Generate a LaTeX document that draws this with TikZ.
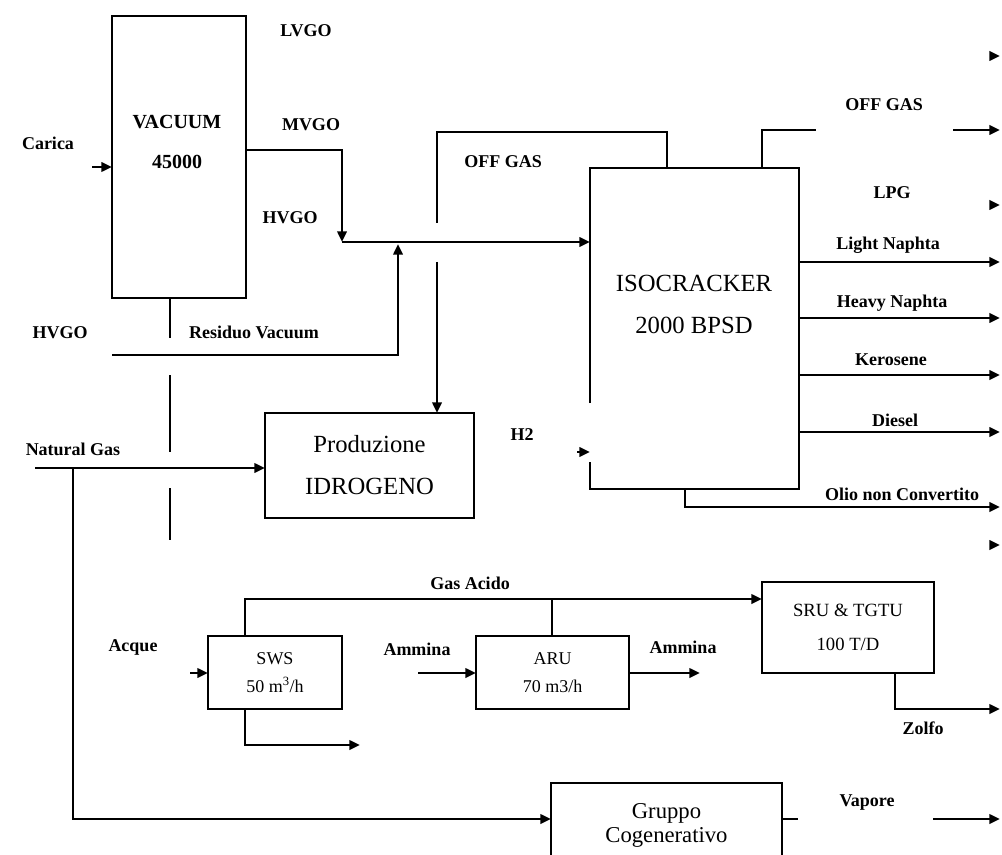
\documentclass[tikz,border=0pt]{standalone}
\usepackage{fontspec}
\setmainfont{Liberation Serif}
\usetikzlibrary{arrows.meta,calc}
\newdimen\upx \upx=0.75pt
\begin{document}
\begin{tikzpicture}[x=0.75pt,y=-0.75pt,line width=1.9pt,
  box/.style={draw,line width=1.9pt,inner sep=0pt,outer sep=0pt,align=center},
  lbl/.style={font=\fontsize{13.5}{15}\selectfont\bfseries,inner sep=0pt},
  arr/.style={-{Triangle[length=8pt,width=7pt]}}]
\clip (0,0) rectangle (1002,855);
\fill[white] (0,0) rectangle (1002,855);

% ---- boxes ----
\node[box,minimum width=134\upx,minimum height=282\upx] (vac) at (179,157) {};
\node[align=center,inner sep=0pt,font=\fontsize{15}{30}\selectfont\bfseries] (vact) at (177,142) {VACUUM\\45000};
\node[inner sep=0pt,outer sep=0pt,minimum width=209\upx,minimum height=321\upx] (iso) at (694.5,328.5) {};
\draw ($(iso.north west)+(0,235)$) -- (iso.north west) -- (iso.north east) -- (iso.south east) -- (iso.south west) -- ($(iso.south west)+(0,-27)$);
\node[align=center,inner sep=0pt,font=\fontsize{18.5}{31.5}\selectfont] (isot) at (694,304) {ISOCRACKER\\2000 BPSD};
\node[box,minimum width=209\upx,minimum height=105\upx,font=\fontsize{18.5}{31.5}\selectfont] (prod) at (369.5,465.5) {Produzione\\IDROGENO};
\node[box,minimum width=134\upx,minimum height=73\upx,font=\fontsize{13.5}{21}\selectfont] (sws) at (275,672.5) {SWS\\50 m\textsuperscript{3}/h};
\node[box,minimum width=153\upx,minimum height=73\upx,font=\fontsize{13.5}{21}\selectfont] (aru) at (552.5,672.5) {ARU\\70 m3/h};
\node[box,minimum width=172\upx,minimum height=91\upx,font=\fontsize{14}{25.5}\selectfont] (sru) at (848,627.5) {SRU \& TGTU\\100 T/D};
\node[box,minimum width=231\upx,minimum height=84\upx,font=\fontsize{17}{18}\selectfont] (cog) at (666.5,825) {Gruppo\\Cogenerativo};

% ---- labels ----
\node[lbl] (lLVGO) at (306,31) {LVGO};
\node[lbl] (lMVGO) at (311,125) {MVGO};
\node[lbl] (lHVGOa) at (290,218) {HVGO};
\node[lbl] (lCarica) at (48,143) {Carica};
\node[lbl] (lHVGOb) at (60,333) {HVGO};
\node[lbl] (lRes) at (254,332) {Residuo Vacuum};
\node[lbl] (lNG) at (73,449) {Natural Gas};
\node[lbl] (lOGa) at (503,162) {OFF GAS};
\node[lbl] (lOGb) at (884,105) {OFF GAS};
\node[lbl] (lLPG) at (892,193) {LPG};
\node[lbl] (lLN) at (888,245) {Light Naphta};
\node[lbl] (lHN) at (892,303) {Heavy Naphta};
\node[lbl] (lKe) at (891,360) {Kerosene};
\node[lbl] (lDi) at (895,420) {Diesel};
\node[lbl] (lOl) at (902,494) {Olio non Convertito};
\node[lbl] (lH2) at (522,435) {H2};
\node[lbl] (lGA) at (470,583) {Gas Acido};
\node[lbl] (lAq) at (133,647) {Acque};
\node[lbl] (lAm1) at (417,649) {Ammina};
\node[lbl] (lAm2) at (683,647) {Ammina};
\node[lbl] (lZo) at (923,728) {Zolfo};
\node[lbl] (lVa) at (867,803) {Vapore};

% ---- coordinates ----
\coordinate (cin) at (92,167);
\coordinate (mv1) at (246,150);
\coordinate (j1) at (342,242);
\coordinate (hv0) at (112,355);
\coordinate (hv1) at (398,244);
\coordinate (og1) at (667,132);
\coordinate (og2) at (437,223);
\coordinate (og3) at (437,262);
\coordinate (og4) at (762,130);
\coordinate (og5) at (816,130);
\coordinate (og6) at (953,130);
\coordinate (og7) at (1000,130);
\coordinate (o1) at (1000,262);
\coordinate (o2) at (1000,318);
\coordinate (o3) at (1000,375);
\coordinate (o4) at (1000,432);
\coordinate (ol0) at (685,507);
\coordinate (ol1) at (1000,507);
\coordinate (h2) at (577,452);
\coordinate (s1) at (990,56);
\coordinate (s2) at (990,205);
\coordinate (s3) at (990,545);
\coordinate (ng0) at (35,468);
\coordinate (ng1) at (73,468);
\coordinate (ng2) at (551,819);
\coordinate (rv0) at (170,338);
\coordinate (rv1) at (170,375);
\coordinate (rv2) at (170,452);
\coordinate (rv3) at (170,488);
\coordinate (rv4) at (170,540);
\coordinate (ga0) at (245,599);
\coordinate (ga1) at (552,599);
\coordinate (sw1) at (245,745);
\coordinate (sw2) at (360,745);
\coordinate (aq) at (190,673);
\coordinate (am0) at (418,673);
\coordinate (am1) at (700,673);
\coordinate (zo0) at (895,709);
\coordinate (zo1) at (1000,709);
\coordinate (va0) at (798,819);
\coordinate (va1) at (933,819);
\coordinate (va2) at (1000,819);

% ---- connectors ----
\draw[arr] (cin) -- (cin -| vac.west);
\draw[arr] (mv1) -| (j1);
\draw[arr] (j1) -- (j1 -| iso.west);
\draw[arr] (hv0) -| (hv1);
\draw (og1 |- iso.north) -- (og1) -| (og2);
\draw[arr] (og3) -- (og3 |- prod.north);
\draw (og4 |- iso.north) -- (og4) -- (og5);
\draw[arr] (og6) -- (og7);
\draw[arr] (o1 -| iso.east) -- (o1);
\draw[arr] (o2 -| iso.east) -- (o2);
\draw[arr] (o3 -| iso.east) -- (o3);
\draw[arr] (o4 -| iso.east) -- (o4);
\draw[arr] (ol0 |- iso.south) -- (ol0) -- (ol1);
\draw[arr] (h2) -- (h2 -| iso.west);
\draw[arr] (s1) -- ++(10,0);
\draw[arr] (s2) -- ++(10,0);
\draw[arr] (s3) -- ++(10,0);
\draw[arr] (ng0) -- (ng0 -| prod.west);
\draw[arr] (ng1) |- (ng2 -| cog.west);
\draw (rv0 |- vac.south) -- (rv0);
\draw (rv1) -- (rv2);
\draw (rv3) -- (rv4);
\draw[arr] (ga0 |- sws.north) -- (ga0) -- (ga0 -| sru.west);
\draw (ga1 |- aru.north) -- (ga1);
\draw[arr] (sw1 |- sws.south) -- (sw1) -- (sw2);
\draw[arr] (aq) -- (aq -| sws.west);
\draw[arr] (am0) -- (am0 -| aru.west);
\draw[arr] (am1 -| aru.east) -- (am1);
\draw[arr] (zo0 |- sru.south) -- (zo0) -- (zo1);
\draw (va0 -| cog.east) -- (va0);
\draw[arr] (va1) -- (va2);
\end{tikzpicture}
\end{document}
